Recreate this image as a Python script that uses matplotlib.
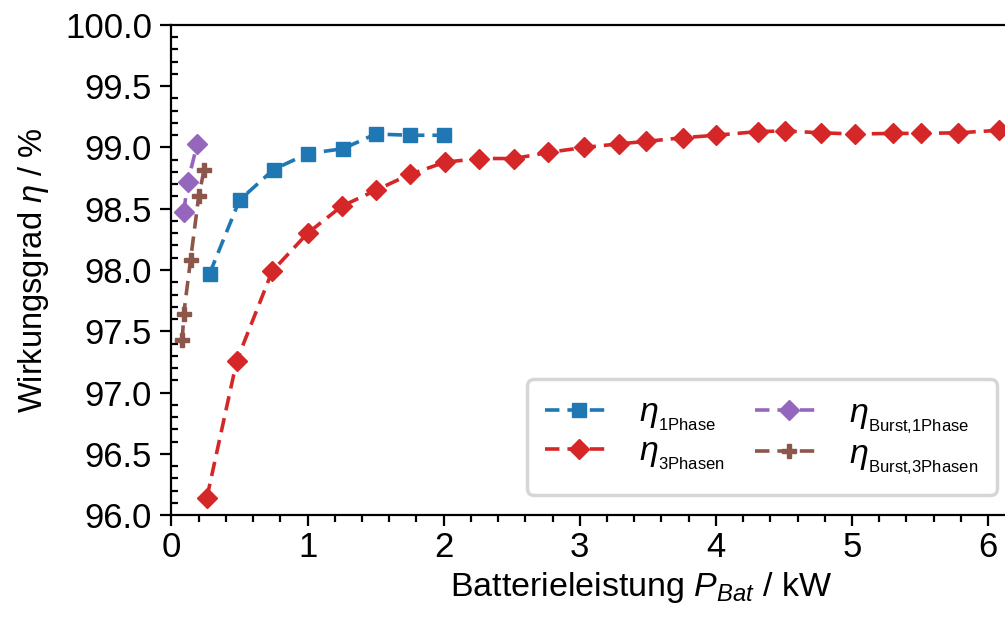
import numpy as np
import matplotlib
matplotlib.use('Agg')
import matplotlib.pyplot as plt
from matplotlib.ticker import MultipleLocator

plt.rcParams['font.family'] = ['Liberation Sans', 'DejaVu Sans']
plt.rcParams['mathtext.fontset'] = 'custom'
plt.rcParams['mathtext.rm'] = 'Liberation Sans'
plt.rcParams['mathtext.it'] = 'Liberation Sans:italic'

# 1 Phase
p_1ph = [0.28, 0.50, 0.75, 1.00, 1.26, 1.50, 1.75, 2.00]
eta_1ph = [97.97, 98.57, 98.82, 98.95, 98.99, 99.11, 99.10, 99.10]

# 3 Phasen
p_3ph = [0.26, 0.48, 0.74, 1.00, 1.25, 1.50, 1.75, 2.01, 2.26, 2.52, 2.77, 3.03,
         3.29, 3.49, 3.76, 4.00, 4.31, 4.51, 4.77, 5.02, 5.30, 5.51, 5.78, 6.08]
eta_3ph = [96.14, 97.26, 97.99, 98.30, 98.52, 98.65, 98.78, 98.88, 98.91, 98.91, 98.96, 99.00,
           99.03, 99.05, 99.08, 99.10, 99.13, 99.135, 99.12, 99.11, 99.115, 99.115, 99.12, 99.14]

# Burst 1 Phase
p_b1 = [0.09, 0.12, 0.19]
eta_b1 = [98.47, 98.72, 99.03]

# Burst 3 Phasen
p_b3 = [0.08, 0.09, 0.14, 0.20, 0.24]
eta_b3 = [97.43, 97.64, 98.08, 98.60, 98.82]

fig = plt.figure(figsize=(10.05, 6.17), dpi=100)
ax = fig.add_axes([0.1706, 0.1653, 0.9345, 0.7942])

dash = (4.0, 2.2)
ax.plot(p_1ph, eta_1ph, '--s', color='#1f77b4', lw=2.6, ms=10, dashes=dash,
        label=r'$\eta_{_{\mathrm{1Phase}}}$')
ax.plot(p_3ph, eta_3ph, '--D', color='#d62728', lw=2.6, ms=10, dashes=dash,
        label=r'$\eta_{_{\mathrm{3Phasen}}}$')
ax.plot(p_b1, eta_b1, '--D', color='#9467bd', lw=2.6, ms=10, dashes=dash,
        label=r'$\eta_{_{\mathrm{Burst{,}1Phase}}}$')
ax.plot(p_b3, eta_b3, '--P', color='#8c564b', lw=2.6, ms=10, dashes=dash,
        label=r'$\eta_{_{\mathrm{Burst{,}3Phasen}}}$')

ax.set_xlim(0, 6.9)
ax.set_ylim(96, 100)
ax.xaxis.set_major_locator(MultipleLocator(1))
ax.xaxis.set_minor_locator(MultipleLocator(0.2))
ax.yaxis.set_major_locator(MultipleLocator(0.5))
ax.yaxis.set_minor_locator(MultipleLocator(0.1))
ax.yaxis.set_major_formatter(matplotlib.ticker.FormatStrFormatter('%.1f'))

for s in ax.spines.values():
    s.set_linewidth(1.6)
ax.tick_params(axis='both', which='major', length=8, width=1.6, labelsize=25, direction='out')
ax.tick_params(axis='y', which='major', pad=6)
ax.tick_params(axis='x', which='minor', length=5, width=1.6, direction='out')
ax.tick_params(axis='y', which='minor', length=5, width=1.6, direction='in')

ax.set_xlabel(r'Batterieleistung $P_{Bat}$ / kW', fontsize=24.5, labelpad=4)
ax.set_ylabel(r'Wirkungsgrad $\eta$ / %', fontsize=23.5, labelpad=10)

leg = ax.legend(loc='lower right', bbox_to_anchor=(0.992, 0.1977), bbox_transform=fig.transFigure,
                borderaxespad=0, ncol=2, fontsize=24.5, handlelength=1.95, handletextpad=0.8,
                columnspacing=0.9, borderpad=0.55, labelspacing=0.12, fancybox=True)
leg.get_frame().set_linewidth(2.5)
leg.get_frame().set_edgecolor('#cccccc')

fig.savefig('out.png', dpi=100)
